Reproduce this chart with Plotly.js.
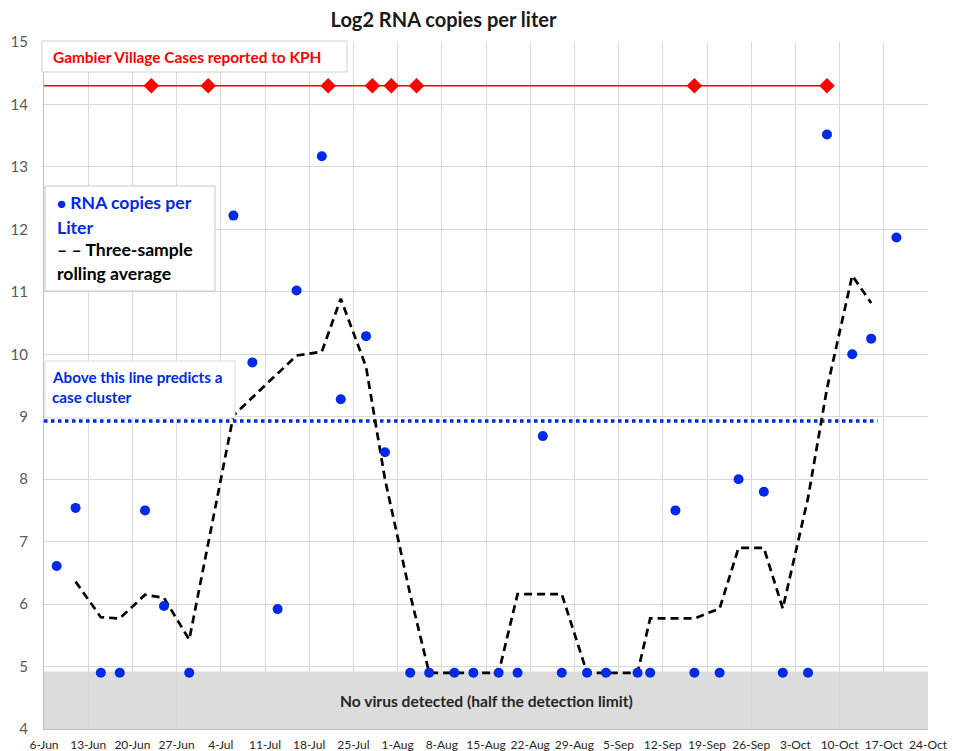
<!DOCTYPE html>
<html>
<head>
<meta charset="utf-8">
<script src="https://cdn.plot.ly/plotly-3.0.1.min.js"></script>
<style>html,body{margin:0;padding:0;background:#fff;}#chart{width:966px;height:751px;}</style>
</head>
<body>
<div id="chart"></div>
<script>
// ---- data ----
const sampleDates = ['2020-06-08','2020-06-11','2020-06-15','2020-06-18','2020-06-22','2020-06-25','2020-06-29',
  '2020-07-06','2020-07-09','2020-07-13','2020-07-16','2020-07-20','2020-07-23','2020-07-27','2020-07-30',
  '2020-08-03','2020-08-06','2020-08-10','2020-08-13','2020-08-17','2020-08-20','2020-08-24','2020-08-27','2020-08-31',
  '2020-09-03','2020-09-08','2020-09-10','2020-09-14','2020-09-17','2020-09-21','2020-09-24','2020-09-28',
  '2020-10-01','2020-10-05','2020-10-08','2020-10-12','2020-10-15','2020-10-19'];
const rnaLog2 = [6.61,7.54,4.9,4.9,7.50,5.97,4.9,
  12.22,9.87,5.92,11.02,13.17,9.28,10.29,8.43,
  4.9,4.9,4.9,4.9,4.9,4.9,8.69,4.9,4.9,
  4.9,4.9,4.9,7.50,4.9,4.9,8.00,7.80,
  4.9,4.9,13.52,10.00,10.25,11.87];
const rollingAvg = [null,6.36,5.79,5.77,6.15,6.10,5.43,
  9.02,9.31,9.70,9.98,10.04,10.89,9.80,8.00,
  6.15,4.9,4.9,4.9,4.9,6.16,6.16,6.16,4.9,
  4.9,4.9,5.77,5.77,5.77,5.93,6.90,6.90,
  5.93,7.70,9.45,11.26,10.82,null];
const caseDates = ['2020-06-23','2020-07-02','2020-07-21','2020-07-28','2020-07-31','2020-08-04','2020-09-17','2020-10-08'];
const caseLevel = 14.3;
const thresholdLevel = 8.93;
const thresholdEnd = '2020-10-16';
const noVirusLevel = 4.92;
const xStart = '2020-06-06';
const xEnd = '2020-10-24';
const yMin = 4, yMax = 15;

const BLUE = '#0029e8';
const FONT = 'Lato, "Open Sans", sans-serif';

const caseYs = caseDates.map(() => caseLevel);

const traces = [
  {
    x: sampleDates, y: rollingAvg, type: 'scatter', mode: 'lines',
    line: {color: '#000000', width: 2.7, dash: '8px,5px'},
    connectgaps: false, hoverinfo: 'skip', name: 'Three-sample rolling average'
  },
  {
    x: sampleDates, y: rnaLog2, type: 'scatter', mode: 'markers',
    marker: {color: BLUE, size: 10, line: {width: 0}},
    name: 'RNA copies per Liter'
  },
  {
    x: caseDates, y: caseYs, type: 'scatter', mode: 'markers',
    marker: {color: '#ff0000', size: 12, symbol: 'diamond', line: {width: 0}},
    name: 'Cases'
  }
];

function px2x(px){ return (px-44)/884; }
function px2y(py){ return (729-py)/687; }

const shapes = [
  {type:'rect', xref:'paper', yref:'y', x0:0, x1:1, y0:yMin, y1:noVirusLevel,
   fillcolor:'#dcdcdc', line:{width:0}, layer:'below'},
  {type:'line', xref:'x', yref:'y', x0:xStart, x1:caseDates[caseDates.length-1], y0:caseLevel, y1:caseLevel,
   line:{color:'#ff0000', width:1.6}, layer:'between'},
  {type:'line', xref:'x', yref:'y', x0:xStart, x1:thresholdEnd, y0:thresholdLevel, y1:thresholdLevel,
   line:{color:BLUE, width:3.5, dash:'3.5px,3.5px'}, layer:'between'},
  // text boxes
  {type:'rect', xref:'paper', yref:'paper', x0:px2x(42), x1:px2x(347), y0:px2y(72), y1:px2y(41),
   fillcolor:'#ffffff', line:{color:'#d0d0d0', width:1}, layer:'above'},
  {type:'rect', xref:'paper', yref:'paper', x0:px2x(45), x1:px2x(215), y0:px2y(291), y1:px2y(186),
   fillcolor:'#ffffff', line:{color:'#c8c8c8', width:1}, layer:'above'},
  {type:'rect', xref:'paper', yref:'paper', x0:px2x(45), x1:px2x(235), y0:px2y(418), y1:px2y(361),
   fillcolor:'#ffffff', line:{color:'#d8d8d8', width:1}, layer:'above'}
];

function txt(text, px, py, size, color, anchor){
  return {text: text, xref:'paper', yref:'paper', x: px2x(px), y: px2y(py),
    xanchor: anchor || 'left', yanchor:'middle', showarrow:false,
    font:{family: FONT, size: size, color: color}};
}

const annotations = [
  txt('<b>Gambier Village Cases reported to KPH</b>', 51, 57, 15.4, '#ff0000'),
  txt('<b><span style="font-size:15px">●</span> RNA copies per</b>', 55, 203, 17.6, BLUE),
  txt('<b>Liter</b>', 55, 227, 17.6, BLUE),
  txt('<b>– – Three-sample</b>', 55, 250, 17.6, '#000000'),
  txt('<b>rolling average</b>', 55, 273, 17.6, '#000000'),
  txt('<b>Above this line predicts a</b>', 50, 377, 15.2, BLUE),
  txt('<b>case cluster</b>', 50, 397, 15.2, BLUE),
  txt('<b>No virus detected (half the detection limit)</b>', 486, 701, 15.6, '#262626', 'center')
];

const layout = {
  width: 966, height: 751,
  margin: {l: 44, r: 38, t: 42, b: 22},
  paper_bgcolor: '#ffffff', plot_bgcolor: '#ffffff',
  showlegend: false,
  title: {text: '<b>Log2 RNA copies per liter</b>', x: 443.5/966, xref: 'container', xanchor: 'center',
          y: 1 - 20/751, yref: 'container', yanchor: 'middle',
          font: {family: FONT, size: 20, color: '#1a1a1a'}},
  xaxis: {
    type: 'date', range: [xStart, xEnd], tick0: xStart, dtick: 7*86400000,
    tickformat: '%-d-%b', showgrid: true, gridcolor: '#d9d9d9', gridwidth: 1,
    showline: true, linecolor: '#bfbfbf', linewidth: 1, zeroline: false,
    ticks: '', ticklabelstandoff: 5,
    tickfont: {family: FONT, size: 12, color: '#262626'}
  },
  yaxis: {
    range: [yMin, yMax], dtick: 1, tick0: 4, showgrid: true, gridcolor: '#d9d9d9', gridwidth: 1,
    showline: true, linecolor: '#bfbfbf', linewidth: 1, zeroline: false,
    ticks: '', ticklabelstandoff: 12,
    tickfont: {family: FONT, size: 15, color: '#595959'}
  },
  shapes: shapes,
  annotations: annotations
};

Plotly.newPlot('chart', traces, layout, {displayModeBar: false, staticPlot: true});
</script>
</body>
</html>
